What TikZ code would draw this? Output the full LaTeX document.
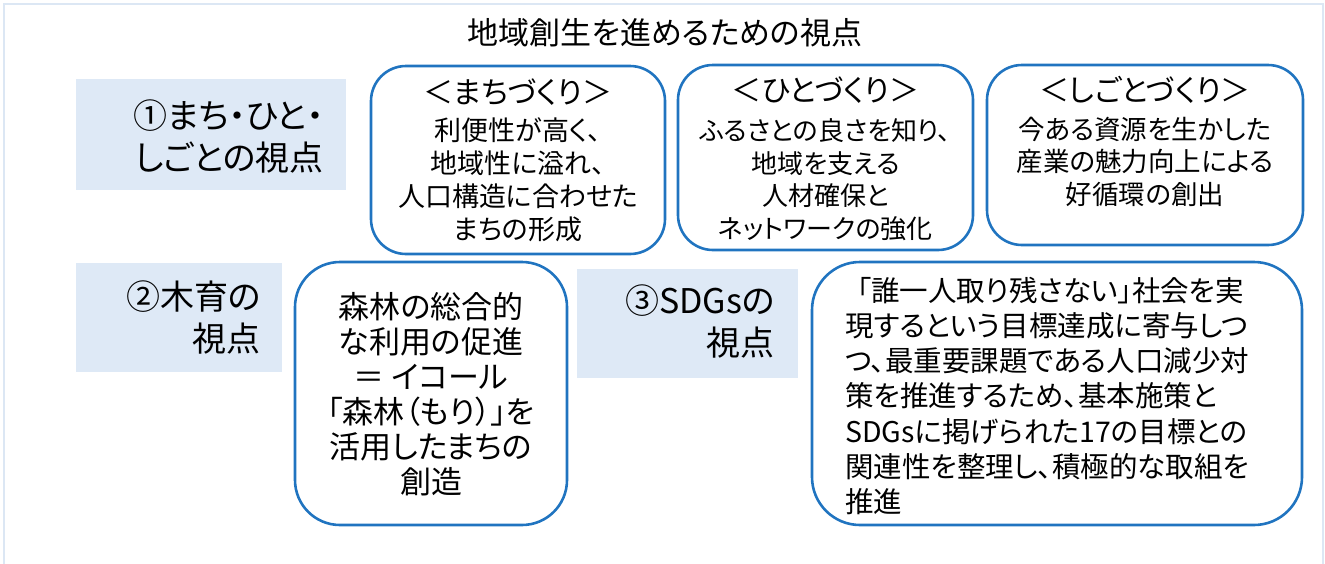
\documentclass[tikz,border=0pt]{standalone}
\usepackage{fontspec}
\newfontfamily\jp[RawFeature=+palt]{Noto Sans CJK JP}
\definecolor{boxblue}{RGB}{32,116,192}
\definecolor{labelfill}{RGB}{222,233,246}
\definecolor{framecol}{RGB}{220,231,244}
\begin{document}
\begin{tikzpicture}[x=1pt,y=-1pt,
  rbox/.style={draw=boxblue, line width=2.6pt, rounded corners=#1, inner sep=0pt},
  rbox/.default=35pt,
  lab/.style={fill=labelfill, draw=none, inner sep=0pt},
  txt/.style={inner sep=0pt, align=center},
  labtxt/.style={inner sep=0pt, align=right, anchor=east, font=\jp\fontsize{34}{42}\selectfont},
  boxtxt/.style={inner sep=0pt, align=center, font=\jp\fontsize{27}{33}\selectfont}]
\useasboundingbox (0,0) rectangle (1325,563);
\draw[framecol, line width=2pt] (4,575) -- (4,4) -- (1323,4) -- (1323,575);

\node[txt, font=\jp\fontsize{31}{36}\selectfont] (title) at (665,33) {地域創生を進めるための視点};

% label boxes
\node[lab, minimum width=270pt, minimum height=111pt] (L1) at (211,134.5) {};
\node[labtxt] (L1t) at (324,136) {①まち・ひと・\\しごとの視点};
\node[lab, minimum width=206pt, minimum height=109pt] (L2) at (179,317.5) {};
\node[labtxt] (L2t) at (261,317.5) {②木育の\\視点};
\node[lab, minimum width=221pt, minimum height=109pt] (L3) at (687.5,323.5) {};
\node[labtxt] (L3t) at (775,321.5) {③SDGsの\\視点};

% top boxes
\node[rbox, minimum width=294pt, minimum height=188pt] (bA) at (518,160) {};
\node[boxtxt] (tA) at (518,160.5) {{\fontsize{30}{33}\selectfont ＜まちづくり＞}\\[4pt]利便性が高く、\\地域性に溢れ、\\人口構造に合わせた\\まちの形成};

\node[rbox, minimum width=295pt, minimum height=185pt] (bB) at (825.5,157.5) {};
\node[boxtxt, font=\jp\fontsize{26}{32.5}\selectfont] (tB) at (825.5,158.5) {{\fontsize{30}{33}\selectfont ＜ひとづくり＞}\\[7pt]ふるさとの良さを知り、\\地域を支える\\人材確保と\\ネットワークの強化};

\node[rbox, minimum width=316pt, minimum height=180pt] (bC) at (1145,155) {};
\node[boxtxt, font=\jp\fontsize{26.5}{32.5}\selectfont] (tC) at (1145,141.5) {{\fontsize{30}{33}\selectfont ＜しごとづくり＞}\\[5pt]今ある資源を生かした\\産業の魅力向上による\\好循環の創出};

% bottom boxes
\node[rbox=45pt, minimum width=272pt, minimum height=263pt] (bD) at (431,393.5) {};
\node[boxtxt, font=\jp\fontsize{31}{35}\selectfont] (tD) at (431,394.5) {森林の総合的\\な利用の促進\\＝ イコール\\「森林（もり）」を\\活用したまちの\\創造};

\node[rbox=48pt, minimum width=490pt, minimum height=263pt] (bE) at (1057,393.5) {};
\node[boxtxt, align=left, anchor=west, font=\jp\fontsize{28.5}{35.3}\selectfont] (tE) at (845,396) {\hspace{12pt}「誰一人取り残さない」社会を実\\現するという目標達成に寄与しつ\\つ、最重要課題である人口減少対\\策を推進するため、基本施策と\\SDGsに掲げられた17の目標との\\関連性を整理し、積極的な取組を\\推進};
\end{tikzpicture}
\end{document}
